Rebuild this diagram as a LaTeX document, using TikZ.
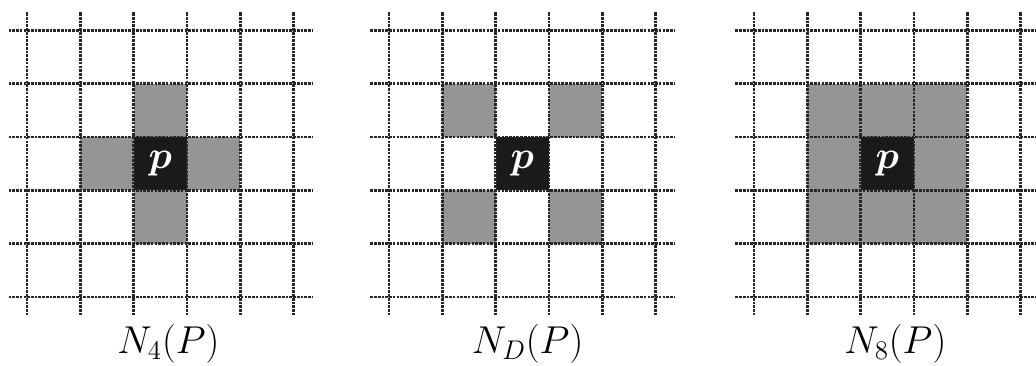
\documentclass[tikz,border=0pt]{standalone}
\usepackage{amsmath}
\definecolor{nbgray}{HTML}{959595}
\definecolor{pblack}{HTML}{1A1A1A}
\tikzset{
    gridline/.style={line width=1.4pt, draw=black!85, dash pattern=on 1.4pt off 0.6pt},
    ptext/.style={text=white, font=\fontsize{21}{24}\selectfont\boldmath},
    labtext/.style={anchor=base, font=\fontsize{22}{26}\selectfont},
}
\begin{document}
\begin{tikzpicture}
    \useasboundingbox (0,0) rectangle (19.44,6.85);

    % N_4(P)
    \begin{scope}[shift={(0.51,1.28)}]
        \foreach \x/\y in {2/3,1/2,3/2,2/1}
            {\fill[nbgray] (\x,\y) rectangle ++(1,1);}
        \fill[pblack] (2,2) rectangle (3,3);
        \foreach \i in {0,...,5}
            {\draw[gridline] (\i,-0.35) -- (\i,5.35);
             \draw[gridline] (-0.35,\i) -- (5.35,\i);}
        \node[ptext] (p4) at (2.5,2.5) {$p$};
        \node[labtext] (lab4) at (2.65,-1.06) {$N_4(P)$};
    \end{scope}

    % N_D(P)
    \begin{scope}[shift={(7.30,1.28)}]
        \foreach \x/\y in {1/3,3/3,1/1,3/1}
            {\fill[nbgray] (\x,\y) rectangle ++(1,1);}
        \fill[pblack] (2,2) rectangle (3,3);
        \foreach \i in {0,...,5}
            {\draw[gridline] (\i,-0.35) -- (\i,5.35);
             \draw[gridline] (-0.35,\i) -- (5.35,\i);}
        \node[ptext] (pD) at (2.5,2.5) {$p$};
        \node[labtext] (labD) at (2.6,-1.06) {$N_D(P)$};
    \end{scope}

    % N_8(P)
    \begin{scope}[shift={(14.15,1.28)}]
        \fill[nbgray] (1,1) rectangle (4,4);
        \fill[pblack] (2,2) rectangle (3,3);
        \foreach \i in {0,...,5}
            {\draw[gridline] (\i,-0.35) -- (\i,5.35);
             \draw[gridline] (-0.35,\i) -- (5.35,\i);}
        \node[ptext] (p8) at (2.5,2.5) {$p$};
        \node[labtext] (lab8) at (2.65,-1.06) {$N_8(P)$};
    \end{scope}
\end{tikzpicture}
\end{document}
